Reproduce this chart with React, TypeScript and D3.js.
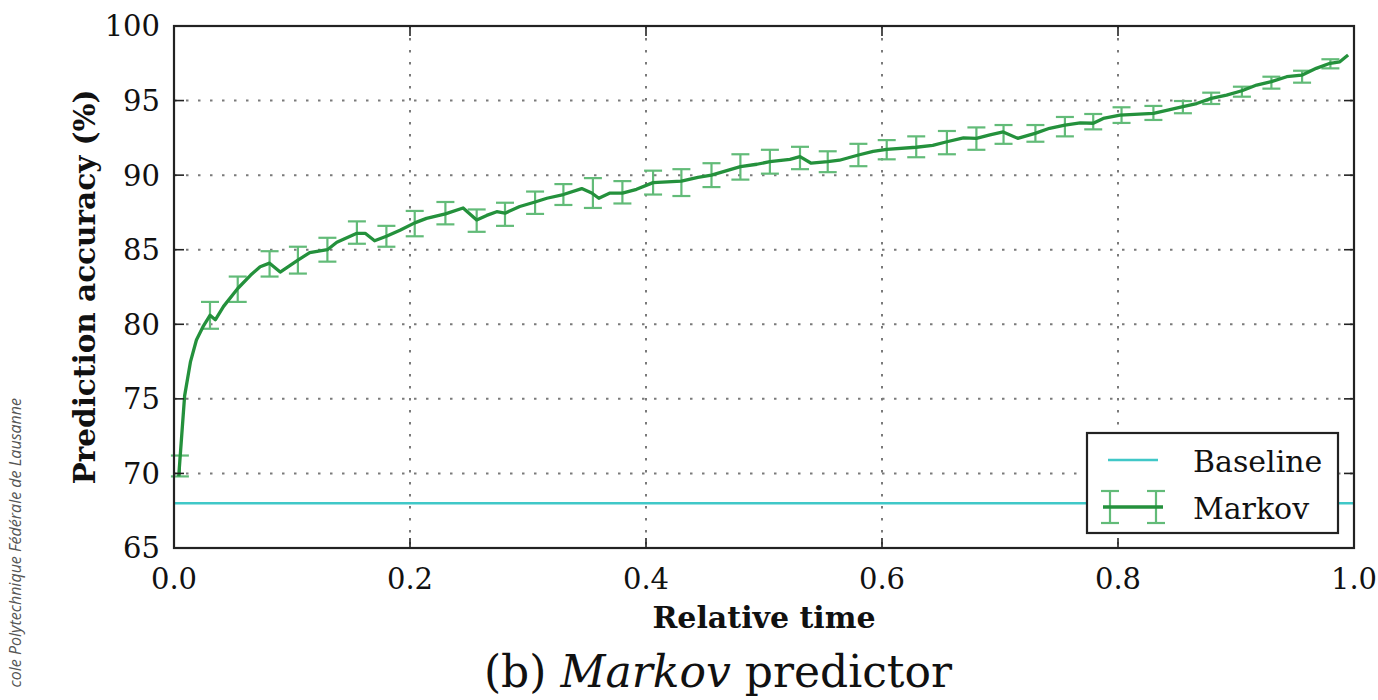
import React from 'react';
import * as d3 from 'd3';

// Markov predictor accuracy over relative time
const lineX = [
    0.004, 0.009, 0.014, 0.019, 0.025, 0.0305, 0.035, 0.042, 0.054, 0.065,
    0.073, 0.081, 0.09, 0.105, 0.115, 0.13, 0.138, 0.155, 0.162, 0.17,
    0.18, 0.1915, 0.204, 0.214, 0.23, 0.245, 0.2565, 0.265, 0.2735, 0.2805,
    0.293, 0.306, 0.316, 0.33, 0.3455, 0.354, 0.36, 0.3695, 0.38, 0.392,
    0.406, 0.43, 0.444, 0.4555, 0.48, 0.494, 0.505, 0.522, 0.5305, 0.54,
    0.554, 0.564, 0.58, 0.5925, 0.604, 0.629, 0.643, 0.655, 0.669, 0.68,
    0.6915, 0.7027, 0.715, 0.7297, 0.742, 0.755, 0.768, 0.779, 0.7875, 0.8017,
    0.83, 0.844, 0.855, 0.8667, 0.879, 0.892, 0.905, 0.9175, 0.93, 0.943,
    0.9557, 0.968, 0.9797, 0.988, 0.995,
];
const lineY = [
    69.8, 75.2, 77.5, 78.95, 79.9, 80.6, 80.3, 81.2, 82.4, 83.3,
    83.86, 84.1, 83.5, 84.3, 84.8, 85.0, 85.5, 86.1, 86.1, 85.6,
    85.9, 86.3, 86.8, 87.1, 87.4, 87.8, 87.0, 87.3, 87.55, 87.45,
    87.9, 88.2, 88.45, 88.7, 89.1, 88.8, 88.45, 88.8, 88.8, 89.05,
    89.5, 89.6, 89.85, 90.0, 90.57, 90.73, 90.9, 91.06, 91.24, 90.8,
    90.9, 91.0, 91.35, 91.6, 91.73, 91.87, 92.0, 92.24, 92.5, 92.47,
    92.7, 92.9, 92.47, 92.8, 93.14, 93.36, 93.5, 93.48, 93.8, 94.03,
    94.14, 94.4, 94.6, 94.8, 95.15, 95.37, 95.66, 96.04, 96.27, 96.6,
    96.7, 97.16, 97.5, 97.6, 98.05,
];

// error bars
const errX = [
    0.005, 0.0305, 0.054, 0.081, 0.105, 0.13, 0.155, 0.18, 0.204, 0.23,
    0.2565, 0.2805, 0.306, 0.33, 0.355, 0.38, 0.406, 0.43, 0.4555, 0.48,
    0.505, 0.5305, 0.554, 0.58, 0.604, 0.629, 0.655, 0.68, 0.703, 0.73,
    0.755, 0.779, 0.803, 0.83, 0.855, 0.879, 0.905, 0.93, 0.956, 0.98,
];
const errLo = [
    69.8, 79.7, 81.5, 83.2, 83.4, 84.2, 85.4, 85.2, 85.9, 86.7,
    86.2, 86.6, 87.4, 88.0, 87.8, 88.1, 88.7, 88.6, 89.2, 89.7,
    90.1, 90.4, 90.2, 90.6, 91.06, 91.2, 91.4, 91.7, 92.1, 92.24,
    92.6, 93.07, 93.5, 93.7, 94.15, 94.77, 95.26, 95.8, 96.2, 97.16,
];
const errHi = [
    71.2, 81.5, 83.2, 84.9, 85.2, 85.8, 86.9, 86.6, 87.6, 88.2,
    87.7, 88.15, 88.9, 89.4, 89.8, 89.6, 90.3, 90.4, 90.8, 91.4,
    91.7, 91.9, 91.6, 92.1, 92.35, 92.6, 92.96, 93.2, 93.36, 93.36,
    93.9, 94.1, 94.55, 94.64, 94.97, 95.53, 95.93, 96.6, 97.0, 97.77,
];

const baseline = 68;
const xTicks = [0, 0.2, 0.4, 0.6, 0.8, 1.0];
const yTicks = [65, 70, 75, 80, 85, 90, 95, 100];
const seriesNames = ['Baseline', 'Markov'];

const lineColor = '#24913c';
const errColor = '#62bb78';
const baseColor = '#40c8c8';
const serif = "'DejaVu Serif', serif";

export default function App() {
    const width = 1378;
    const height = 700;
    const left = 174;
    const right = 1354;
    const top = 26;
    const bottom = 548;
    const tick = 10;

    const x = d3.scaleLinear().domain([0, 1]).range([left, right]);
    const y = d3.scaleLinear().domain([65, 100]).range([bottom, top]);

    const line = d3
        .line()
        .x(d => x(d[0]))
        .y(d => y(d[1]));
    const pts = lineX.map((v, i) => [v, lineY[i]]);

    const cap = 9;

    return (
        <div style={{ position: 'fixed', left: 0, top: 0 }}>
            <svg width={width} height={height} style={{ background: '#fff', display: 'block' }}>
                {/* grid */}
                <g stroke="#7a7a7a" strokeWidth={2} strokeDasharray="2.5,9.5">
                    {xTicks.slice(1, -1).map(t => (
                        <line key={'gx' + t} x1={x(t)} x2={x(t)} y1={top} y2={bottom} />
                    ))}
                    {yTicks.slice(1, -1).map(t => (
                        <line key={'gy' + t} x1={left} x2={right} y1={y(t)} y2={y(t)} />
                    ))}
                </g>

                {/* baseline */}
                <line x1={left} x2={right} y1={y(baseline)} y2={y(baseline)} stroke={baseColor} strokeWidth={2.5} />

                {/* error bars */}
                <g stroke={errColor} strokeWidth={2.2}>
                    {errX.map((v, i) => (
                        <g key={i}>
                            <line x1={x(v)} x2={x(v)} y1={y(errLo[i])} y2={y(errHi[i])} />
                            <line x1={x(v) - cap} x2={x(v) + cap} y1={y(errLo[i])} y2={y(errLo[i])} />
                            <line x1={x(v) - cap} x2={x(v) + cap} y1={y(errHi[i])} y2={y(errHi[i])} />
                        </g>
                    ))}
                </g>

                {/* markov line */}
                <path d={line(pts)} fill="none" stroke={lineColor} strokeWidth={3.3} strokeLinejoin="round" />

                {/* ticks */}
                <g stroke="#222" strokeWidth={1.6}>
                    {xTicks.map(t => (
                        <g key={'tx' + t}>
                            <line x1={x(t)} x2={x(t)} y1={bottom} y2={bottom - tick} />
                            <line x1={x(t)} x2={x(t)} y1={top} y2={top + tick} />
                        </g>
                    ))}
                    {yTicks.map(t => (
                        <g key={'ty' + t}>
                            <line x1={left} x2={left + tick} y1={y(t)} y2={y(t)} />
                            <line x1={right} x2={right - tick} y1={y(t)} y2={y(t)} />
                        </g>
                    ))}
                </g>

                {/* frame */}
                <rect x={left} y={top} width={right - left} height={bottom - top} fill="none" stroke="#222" strokeWidth={2.2} />

                {/* tick labels */}
                <g fontFamily={serif} fontSize={29} fill="#111">
                    {yTicks.map(t => (
                        <text key={'ly' + t} x={left - 14} y={y(t)} dy="0.36em" textAnchor="end">
                            {t}
                        </text>
                    ))}
                    {xTicks.map(t => (
                        <text key={'lx' + t} x={x(t)} y={589} textAnchor="middle">
                            {t.toFixed(1)}
                        </text>
                    ))}
                </g>

                {/* axis labels */}
                <text x={(left + right) / 2} y={628} textAnchor="middle" fontFamily={serif} fontSize={30} fontWeight="bold" fill="#111">
                    Relative time
                </text>
                <text
                    transform={`translate(95, ${(top + bottom) / 2}) rotate(-90)`}
                    textAnchor="middle"
                    fontFamily={serif}
                    fontSize={29.5}
                    fontWeight="bold"
                    fill="#111"
                >
                    Prediction accuracy (%)
                </text>

                {/* legend */}
                <g>
                    <rect x={1087} y={433} width={251} height={100} fill="#fff" stroke="#222" strokeWidth={2.2} />
                    <line x1={1108} x2={1158} y1={460} y2={460} stroke={baseColor} strokeWidth={2.5} />
                    <g stroke={errColor} strokeWidth={2.2}>
                        <line x1={1110} x2={1110} y1={491} y2={523} />
                        <line x1={1156} x2={1156} y1={491} y2={523} />
                        <line x1={1101} x2={1119} y1={491} y2={491} />
                        <line x1={1101} x2={1119} y1={523} y2={523} />
                        <line x1={1147} x2={1165} y1={491} y2={491} />
                        <line x1={1147} x2={1165} y1={523} y2={523} />
                    </g>
                    <line x1={1103} x2={1163} y1={507} y2={507} stroke={lineColor} strokeWidth={3.3} />
                    <g fontFamily={serif} fontSize={30} fill="#111">
                        <text x={1193} y={472}>{seriesNames[0]}</text>
                        <text x={1193} y={519}>{seriesNames[1]}</text>
                    </g>
                </g>

                {/* caption */}
                <text x={718} y={687} textAnchor="middle" fontFamily={serif} fontSize={44} fill="#111">
                    (b) <tspan fontStyle="italic">Markov</tspan> predictor
                </text>

                {/* side watermark */}
                <text
                    transform="translate(21, 398) rotate(-90)"
                    textAnchor="end"
                    fontFamily="'Open Sans', sans-serif"
                    fontStyle="italic"
                    fontSize={16}
                    fill="#555"
                >
                    cole Polytechnique Fédérale de Lausanne
                </text>
            </svg>
        </div>
    );
}
